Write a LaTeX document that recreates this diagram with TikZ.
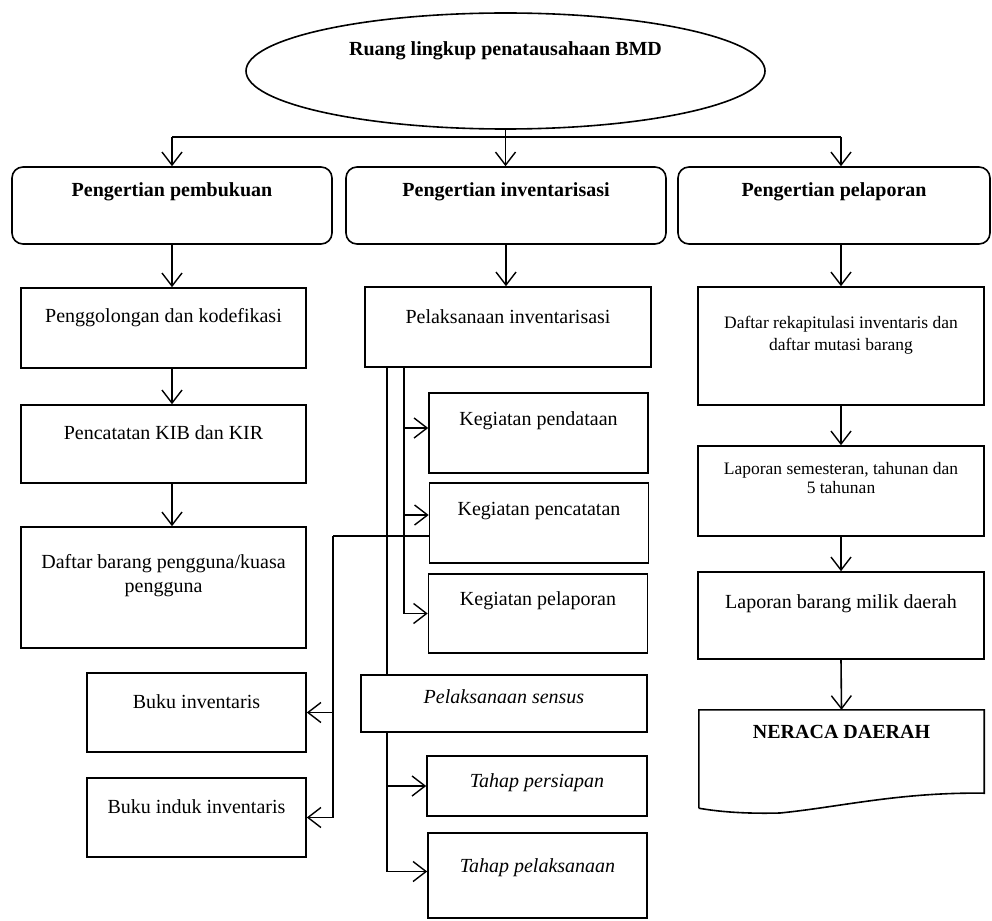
\documentclass[tikz,border=0pt]{standalone}
\usepackage{fontspec}
\setmainfont{Liberation Serif}
\usetikzlibrary{positioning, arrows.meta}
\usetikzlibrary{shapes}

\tikzset{
  box/.style={draw, line width=1.6pt, rectangle, inner sep=0pt},
  rbox/.style={box, rounded corners=11pt},
  lbl/.style={anchor=center, yshift=-#1, align=center, inner sep=0pt},
  arr/.style={line width=1.6pt, -{Straight Barb[length=13pt, width=20pt, line width=1.4pt]}},
  ln/.style={line width=1.6pt}
}

\begin{document}
\begin{tikzpicture}[x=1pt, y=-1pt, font=\fontsize{20}{24}\selectfont]
			\useasboundingbox (0,0) rectangle (992,920);
			% root
			\node[draw, line width=1.6pt, ellipse, minimum width=519pt, minimum height=116pt,
			  label={[lbl=39pt]north:\textbf{Ruang lingkup penatausahaan BMD}}] (root) at (505.5,71) {};
			% top row
			\node[rbox, minimum width=320pt, minimum height=77pt,
			  label={[lbl=26pt]north:\textbf{Pengertian pembukuan}}] (pemb) at (172,205.5) {};
			\node[rbox, minimum width=320pt, minimum height=77pt,
			  label={[lbl=26pt]north:\textbf{Pengertian inventarisasi}}] (inv) at (506,205.5) {};
			\node[rbox, minimum width=312pt, minimum height=77pt,
			  label={[lbl=26pt]north:\textbf{Pengertian pelaporan}}] (lap) at (834,205.5) {};
			% left column
			\node[box, minimum width=285pt, minimum height=80pt,
			  label={[lbl=30pt]north:Penggolongan dan kodefikasi}] (golong) at (163.5,328) {};
			\node[box, minimum width=285pt, minimum height=78pt,
			  label={[lbl=28pt]north:Pencatatan KIB dan KIR}] (kib) at (163.5,444) {};
			\node[box, minimum width=285pt, minimum height=121pt,
			  label={[lbl=49pt]north:Daftar barang pengguna/kuasa\\pengguna}] (daftar) at (163.5,587.5) {};
			\node[box, minimum width=219pt, minimum height=79pt,
			  label={[lbl=29pt]north:Buku inventaris}] (buku) at (196.5,712.5) {};
			\node[box, minimum width=219pt, minimum height=79pt,
			  label={[lbl=29pt]north:Buku induk inventaris}] (induk) at (196.5,817.5) {};
			% middle column
			\node[box, minimum width=286pt, minimum height=80pt,
			  label={[lbl=30pt]north:Pelaksanaan inventarisasi}] (pinv) at (508,327) {};
			\node[box, minimum width=219pt, minimum height=80pt,
			  label={[lbl=29pt]north:Kegiatan pendataan}] (data) at (538.5,433) {};
			\node[box, minimum width=219pt, minimum height=80pt,
			  label={[lbl=29pt]north:Kegiatan pencatatan}] (catat) at (539,523) {};
			\node[box, minimum width=219pt, minimum height=79pt,
			  label={[lbl=28pt]north:Kegiatan pelaporan}] (lapor) at (538,613.5) {};
			\node[box, minimum width=286pt, minimum height=57pt,
			  label={[lbl=22pt]north:\textit{Pelaksanaan sensus}}] (sensus) at (504,703.5) {};
			\node[box, minimum width=220pt, minimum height=60pt,
			  label={[lbl=27pt]north:\textit{Tahap persiapan}}] (siap) at (537,786) {};
			\node[box, minimum width=219pt, minimum height=85pt,
			  label={[lbl=35pt]north:\textit{Tahap pelaksanaan}}] (laks) at (537.5,875.5) {};
			% right column
			\node[box, minimum width=286pt, minimum height=118pt,
			  label={[lbl=49pt, font=\fontsize{17.5}{22}\selectfont]north:Daftar rekapitulasi inventaris dan\\daftar mutasi barang}] (rekap) at (841,346) {};
			\node[box, minimum width=286pt, minimum height=90pt,
			  label={[lbl=33pt, font=\fontsize{17.5}{19}\selectfont]north:Laporan semesteran, tahunan dan\\5 tahunan}] (sem) at (841,491) {};
			\node[box, minimum width=286pt, minimum height=87pt,
			  label={[lbl=33pt]north:Laporan barang milik daerah}] (milik) at (841,615.5) {};
			\node[minimum width=285pt, minimum height=98pt, inner sep=0pt,
			  label={[lbl=22pt]north:\textbf{NERACA DAERAH}}] (neraca) at (841.5,759) {};
			\draw[ln] (neraca.south west) -- (neraca.north west) -- (neraca.north east)
			  -- ([yshift=15pt]neraca.south east)
			  .. controls (900,792) and (840,807) .. (780,813)
			  .. controls (740,814) and (715,811) .. (neraca.south west);
			
			% connectors
			\coordinate (busy) at (0,137);
			\draw[ln] (root.south) -- (root.south |- busy);
			\draw[ln] (pemb.north |- busy) -- (rekap.north |- busy);
			\draw[arr] (pemb.north |- busy) -- (pemb.north);
			\draw[arr] (root.south |- busy) -- (root.south |- inv.north);
			\draw[arr] (rekap.north |- busy) -- (rekap.north |- lap.north);
			\draw[arr] (pemb.south) -- (pemb.south |- golong.north);
			\draw[arr] (pemb.south |- golong.south) -- (pemb.south |- kib.north);
			\draw[arr] (pemb.south |- kib.south) -- (pemb.south |- daftar.north);
			\draw[arr] (inv.south) -- (inv.south |- pinv.north);
			\draw[arr] (rekap.north |- lap.south) -- (rekap.north);
			\draw[arr] (rekap.south) -- (sem.north);
			\draw[arr] (sem.south) -- (milik.north);
			\draw[arr] (milik.south) -- (neraca.north);
			% inventarisasi branches
			\coordinate (v1) at ([xshift=23pt]pinv.south west);
			\coordinate (v2) at ([xshift=40pt]pinv.south west);
			\draw[ln] (v1) -- (v1 |- sensus.north);
			\draw[ln] (v2) -- (v2 |- lapor.west);
			\draw[arr] (v2 |- data.west) ++(0,-5) -- ([yshift=5pt]data.west);
			\draw[arr] (v2 |- catat.west) ++(0,-8) -- ([yshift=8pt]catat.west);
			\draw[arr] (v2 |- lapor.west) -- (lapor.west);
			% pencatatan to buku
			\coordinate (knee) at ([yshift=-13pt]catat.west -| 333,0);
			\draw[ln] ([yshift=-13pt]catat.west) -- (knee);
			\draw[arr] (knee) |- (buku.east);
			\draw[arr] (knee) |- (induk.east);
			% sensus
			\draw[arr] (v1 |- sensus.south) |- (siap.west);
			\draw[arr] (v1 |- sensus.south) |- ([yshift=4pt]laks.west);
		\end{tikzpicture}
\end{document}
